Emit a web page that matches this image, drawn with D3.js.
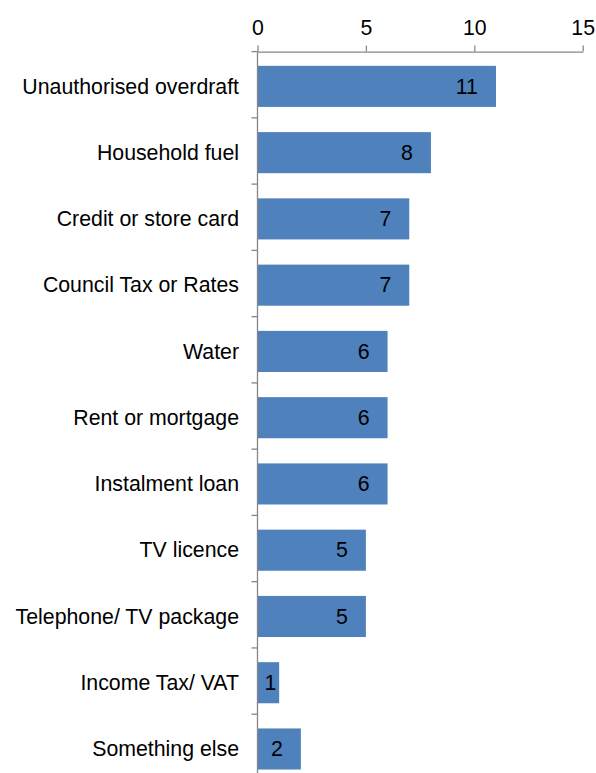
<!DOCTYPE html>
<html>
<head>
<meta charset="utf-8">
<script src="https://cdn.jsdelivr.net/npm/d3@7"></script>
<style>
  body { margin: 0; background: #fff; }
  text { font-family: "Liberation Sans", Arial, sans-serif; }
</style>
</head>
<body>
<div id="container"></div>
<script>
/* DATA */
const categories = ["Unauthorised overdraft", "Household fuel", "Credit or store card",
  "Council Tax or Rates", "Water", "Rent or mortgage", "Instalment loan", "TV licence",
  "Telephone/ TV package", "Income Tax/ VAT", "Something else"];
const values = [11, 8, 7, 7, 6, 6, 6, 5, 5, 1, 2];
const xTicks = [0, 5, 10, 15];

/* CONSTANTS */
const width = 596;
const height = 773;
const axisColor = "#868686";
const barColor = "#4F81BD";
const fontSize = 21.3;

const data = categories.map((c, i) => ({ category: c, value: values[i] }));

/* SCALES */
const xScale = d3.scaleLinear()
  .domain([0, 15])
  .range([257.5, 582.7]);

const yScale = d3.scaleBand()
  .domain(categories)
  .range([51.6, 51.6 + 66.26 * categories.length]);

const svg = d3.select("#container")
  .append("svg")
  .attr("width", width)
  .attr("height", height);

// x axis at top
const xAxis = d3.axisTop(xScale)
  .tickValues(xTicks)
  .tickSize(6)
  .tickPadding(11)
  .tickSizeOuter(0);

const gx = svg.append("g")
  .attr("transform", `translate(0,${yScale.range()[0]})`)
  .call(xAxis);
gx.select(".domain").attr("stroke", axisColor).attr("stroke-width", 1.3);
gx.selectAll(".tick line").attr("stroke", axisColor).attr("stroke-width", 1.3);
gx.selectAll(".tick text")
  .attr("fill", "#000")
  .style("font-size", fontSize + "px")
  .style("font-family", "'Liberation Sans', Arial, sans-serif");

// bars
const bw = yScale.bandwidth();
svg.selectAll("rect.bar")
  .data(data)
  .join("rect")
  .attr("class", "bar")
  .attr("x", xScale(0))
  .attr("y", d => yScale(d.category) + bw * 0.215)
  .attr("width", d => xScale(d.value) - xScale(0))
  .attr("height", bw * 0.62)
  .attr("fill", barColor);

// y axis line + boundary ticks
const bounds = categories.map(c => yScale(c)).concat([yScale.range()[1]]);
svg.append("line")
  .attr("x1", xScale(0)).attr("x2", xScale(0))
  .attr("y1", yScale.range()[0]).attr("y2", yScale.range()[1])
  .attr("stroke", axisColor).attr("stroke-width", 1.3);
svg.selectAll(".ytick")
  .data(bounds)
  .join("line")
  .attr("class", "ytick")
  .attr("x1", xScale(0) - 6).attr("x2", xScale(0))
  .attr("y1", d => d).attr("y2", d => d)
  .attr("stroke", axisColor).attr("stroke-width", 1.3);

// category labels
svg.selectAll(".cat")
  .data(data)
  .join("text")
  .attr("class", "cat")
  .attr("x", 239)
  .attr("y", d => yScale(d.category) + bw * 0.525)
  .attr("dy", "0.34em")
  .attr("text-anchor", "end")
  .style("font-size", fontSize + "px")
  .text(d => d.category);

// value labels (inside end, centred when bar is too short)
svg.selectAll(".label")
  .data(data)
  .join("text")
  .attr("class", "label")
  .attr("x", d => {
    const w = xScale(d.value) - xScale(0);
    return w < 40 ? xScale(0) + w / 2 + 2 : xScale(d.value) - 18;
  })
  .attr("y", d => yScale(d.category) + bw * 0.525)
  .attr("dy", "0.34em")
  .attr("text-anchor", d => (xScale(d.value) - xScale(0)) < 40 ? "middle" : "end")
  .style("font-size", fontSize + "px")
  .text(d => d.value);
</script>
</body>
</html>
